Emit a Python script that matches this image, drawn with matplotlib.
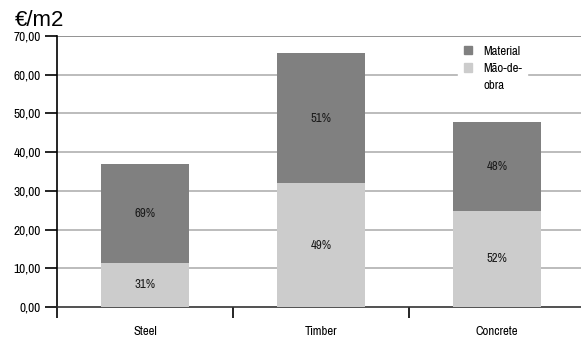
import matplotlib
matplotlib.use("Agg")
import matplotlib.pyplot as plt
from matplotlib.patches import Patch

categories = ["Steel", "Timber", "Concrete"]
labour = [11.4, 32.0, 24.8]      # Mão-de-obra
material = [25.5, 33.6, 23.0]    # Material
labour_pct = ["31%", "49%", "52%"]
material_pct = ["69%", "51%", "48%"]
yticks = [0, 10, 20, 30, 40, 50, 60, 70]
ytick_labels = ["0,00", "10,00", "20,00", "30,00", "40,00", "50,00", "60,00", "70,00"]
legend_labels = ["Material", "Mão-de-", "obra"]

plt.rcParams['font.family'] = ['Pragati Narrow', 'DejaVu Sans']

fig = plt.figure(figsize=(5.81, 3.42), dpi=100)
ax = fig.add_axes([57/581, 1-307/342, 528/581, 271/342])

x = [i + 0.5 for i in range(len(categories))]
c_light = "#cccccc"
c_dark = "#808080"
ax.bar(x, labour, width=0.5, color=c_light, zorder=3)
ax.bar(x, material, width=0.5, bottom=labour, color=c_dark, zorder=3)

for xi, l, m, lp, mp in zip(x, labour, material, labour_pct, material_pct):
    ax.text(xi, l/2, lp, ha="center", va="center", fontsize=10, color="#1a1a1a", zorder=4)
    ax.text(xi, l + m/2, mp, ha="center", va="center", fontsize=10, color="#1a1a1a", zorder=4)

ax.set_xlim(0, 3)
ax.set_ylim(0, 70)
ax.set_yticks(yticks)
ax.set_yticklabels(ytick_labels, fontsize=10.5)
ax.set_xticks([0, 1, 2, 3])
ax.set_xticklabels([])
ax.set_xticks(x, minor=True)
ax.set_xticklabels(categories, minor=True, fontsize=10)
ax.tick_params(axis='x', which='minor', length=0, pad=14)
ax.tick_params(axis='x', which='major', length=8, width=1.2, direction='out')
ax.tick_params(axis='y', length=8.6, width=1.2, direction='out', pad=3)

for y in yticks[1:]:
    ax.axhline(y, color="#b0b0b0" if y < 70 else "#808080", lw=1.2, zorder=1)

for s in ["top", "right"]:
    ax.spines[s].set_visible(False)
ax.spines["left"].set_linewidth(1.2)
ax.spines["bottom"].set_linewidth(1.2)
ax.spines["bottom"].set_color("#333333")

handles = [Patch(color=c_dark), Patch(color=c_light), Patch(color="none")]
leg = ax.legend(handles=handles, labels=legend_labels, loc="upper left",
                bbox_to_anchor=(401/528, 0.985), frameon=True,
                fontsize=10, handlelength=0.6, handleheight=0.6, borderpad=0.4,
                labelspacing=0.42, handletextpad=0.8, edgecolor="white", fancybox=False,
                borderaxespad=0)
leg.get_frame().set_facecolor("white")
leg.get_frame().set_alpha(1)
leg.set_zorder(5)

fig.text(15/581, 1-20/342, "€/m2", fontsize=16, va="center", ha="left",
         family=["Liberation Sans", "DejaVu Sans"])

fig.savefig("out.png", dpi=100)
